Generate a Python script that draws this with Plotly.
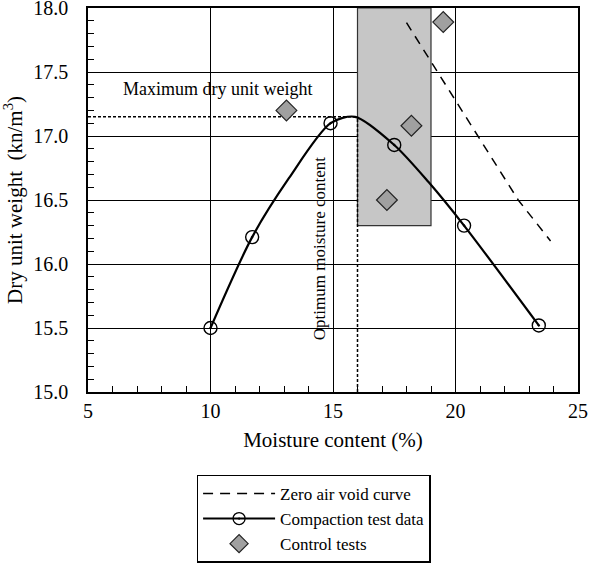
import plotly.graph_objects as go

# compaction test points (moisture %, dry unit weight kN/m3)
test_w = [10.0, 11.7, 14.9, 17.5, 20.35, 23.4]
test_gd = [15.5, 16.21, 17.1, 16.93, 16.3, 15.52]

# fitted compaction curve
curve_w = [10.0, 11.7, 13.2, 14.9, 15.9, 17.5, 18.9, 20.35, 23.4]
curve_gd = [15.5, 16.21, 16.67, 17.1, 17.15, 16.93, 16.64, 16.3, 15.52]

# zero air void curve
zav_w = [18.0, 19.27, 20.89, 22.56, 23.88]
zav_gd = [17.885, 17.5, 17.0, 16.5, 16.18]

# control tests
ctrl_w = [13.1, 18.2, 17.2, 19.5]
ctrl_gd = [17.2, 17.08, 16.5, 17.89]

# optimum point and acceptance window
opt_w = 16.0
max_gd = 17.15
window_w = [16.0, 19.0]
window_gd = [16.3, 18.0]

FONT = "Liberation Serif, Times New Roman, Times, serif"

fig = go.Figure()

# acceptance window (gray box)
fig.add_shape(type="rect", xref="x", yref="y",
              x0=window_w[0], x1=window_w[1], y0=window_gd[0], y1=window_gd[1],
              fillcolor="#c6c6c6", line=dict(color="#333333", width=1.2),
              layer="between")

# max dry unit weight / optimum moisture guide lines
fig.add_trace(go.Scatter(x=[5, opt_w], y=[max_gd, max_gd], mode="lines",
                         line=dict(color="black", width=1.5, dash="3px,2px"),
                         showlegend=False, hoverinfo="skip"))
fig.add_trace(go.Scatter(x=[opt_w, opt_w], y=[15.0, max_gd], mode="lines",
                         line=dict(color="black", width=1.5, dash="3px,2px"),
                         showlegend=False, hoverinfo="skip"))

# zero air void curve
fig.add_trace(go.Scatter(x=zav_w, y=zav_gd, mode="lines",
                         line=dict(color="black", width=1.5, dash="9px,7px"),
                         showlegend=False))

# compaction curve + points
fig.add_trace(go.Scatter(x=curve_w, y=curve_gd, mode="lines", line_shape="spline",
                         line=dict(color="black", width=2.2, smoothing=0.8),
                         showlegend=False, hoverinfo="skip"))
fig.add_trace(go.Scatter(x=test_w, y=test_gd, mode="markers",
                         marker=dict(symbol="circle-open-dot", size=13, color="black",
                                     line=dict(width=1.4)),
                         showlegend=False))

# control tests
fig.add_trace(go.Scatter(x=ctrl_w, y=ctrl_gd, mode="markers",
                         marker=dict(symbol="diamond", size=16, color="#a0a0a0",
                                     line=dict(color="#222222", width=1.2)),
                         showlegend=False))

# legend-only entries
fig.add_trace(go.Scatter(x=[None], y=[None], mode="lines", name="Zero air void curve",
                         line=dict(color="black", width=1.5, dash="10px,7px")))
fig.add_trace(go.Scatter(x=[None], y=[None], mode="lines+markers", name="Compaction test data",
                         line=dict(color="black", width=2),
                         marker=dict(symbol="circle-open-dot", size=12, color="black",
                                     line=dict(width=1.3))))
fig.add_trace(go.Scatter(x=[None], y=[None], mode="markers", name="Control tests",
                         marker=dict(symbol="diamond", size=14, color="#a0a0a0",
                                     line=dict(color="#222222", width=1.2))))

fig.add_annotation(x=10.3, y=17.37, text="Maximum dry unit weight", showarrow=False,
                   font=dict(family=FONT, size=18, color="black"))
fig.add_annotation(x=14.45, y=16.12, text="Optimum moisture content", showarrow=False,
                   textangle=-90, font=dict(family=FONT, size=17, color="black"))

axis_common = dict(
    showline=True, linecolor="black", linewidth=1.5, mirror=True,
    showgrid=True, gridcolor="black", gridwidth=1.3, zeroline=False,
    ticks="inside", ticklen=6, tickcolor="black", ticklabeloverflow="allow",
    tickfont=dict(family=FONT, size=20, color="black"),
    automargin=False,
)

fig.update_xaxes(range=[5, 25], dtick=5, tick0=5,
                 minor=dict(dtick=1, ticks="inside", ticklen=6, tickcolor="black", showgrid=False),
                 title=dict(text="Moisture content (%)", standoff=12,
                            font=dict(family=FONT, size=21, color="black")),
                 **axis_common)
fig.update_yaxes(range=[15, 18], dtick=0.5, tick0=15, tickformat=".1f",
                 ticklabelstandoff=14,
                 minor=dict(dtick=0.1, ticks="inside", ticklen=6, tickcolor="black", showgrid=False),
                 title=dict(text="Dry unit weight  (kn/m<sup>3</sup>)", standoff=8,
                            font=dict(family=FONT, size=21, color="black")),
                 **axis_common)

fig.update_layout(
    width=590, height=563,
    margin=dict(l=88, r=12, t=8, b=171),
    plot_bgcolor="white", paper_bgcolor="white",
    font=dict(family=FONT, color="black"),
    legend=dict(x=0.222, y=0.157, xanchor="left", yanchor="top", yref="container",
                bordercolor="black", borderwidth=1.3, bgcolor="white",
                itemwidth=72,
                font=dict(family=FONT, size=17, color="black"),
                tracegroupgap=0),
    showlegend=True,
)

# page body has a default 8px margin; drop it so the figure sits at the window origin
fig.write_html("out.html", config={"displayModeBar": False},
               post_script="document.body.style.margin = '0';")
